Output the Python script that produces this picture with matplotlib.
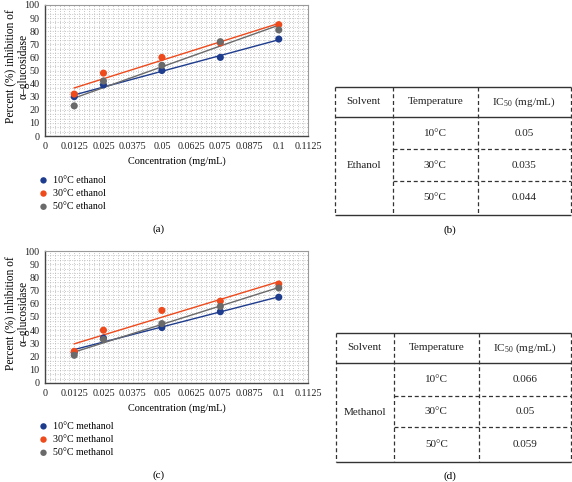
import numpy as np
import matplotlib
matplotlib.use("Agg")
import matplotlib.pyplot as plt
from matplotlib.ticker import MultipleLocator, FixedLocator

plt.rcParams['font.family'] = ['Liberation Serif', 'DejaVu Serif']
plt.rcParams['mathtext.fontset'] = 'custom'
plt.rcParams['mathtext.rm'] = 'Liberation Serif'

# ---------------- data ----------------
conc = [0.0125, 0.025, 0.05, 0.075, 0.1]
x_ticks = [0, 0.0125, 0.025, 0.0375, 0.05, 0.0625, 0.075, 0.0875, 0.1, 0.1125]
x_ticklabels = ["0", "0.0125", "0.025", "0.0375", "0.05", "0.0625", "0.075", "0.0875", "0.1", "0.1125"]
y_ticks = [0, 10, 20, 30, 40, 50, 60, 70, 80, 90, 100]

ethanol_10 = [30, 39, 50, 60, 74]
ethanol_30 = [32, 48, 60, 71, 85]
ethanol_50 = [23, 42, 54, 72, 81]

methanol_10 = [23, 34, 42, 54, 65]
methanol_30 = [24, 40, 55, 62, 75]
methanol_50 = [21, 33, 45, 58, 72]

eth_labels = ["10°C ethanol", "30°C ethanol", "50°C ethanol"]
meth_labels = ["10°C methanol", "30°C methanol", "50°C methanol"]

table_header = ["Solvent", "Temperature", "IC$_{\\mathregular{50}}$ (mg/mL)"]
temps = ["10°C", "30°C", "50°C"]
ic50_ethanol = ["0.05", "0.035", "0.044"]
ic50_methanol = ["0.066", "0.05", "0.059"]

colors = ["#1E3C8E", "#EE4A1C", "#6A6A6A"]

W, H = 572, 482
fig = plt.figure(figsize=(W / 100, H / 100), dpi=100)


def fx(px):
    return px / W


def fy(py):
    return 1 - py / H


def make_plot(top_px, bot_px, series, labels, leg_top_px, cap, cap_y):
    ax = fig.add_axes([fx(45), fy(bot_px), fx(308) - fx(45), fy(top_px) - fy(bot_px)])
    ax.set_xlim(0, 0.1125)
    ax.set_ylim(0, 100)
    ax.xaxis.set_major_locator(FixedLocator(x_ticks))
    ax.set_xticklabels(x_ticklabels)
    ax.yaxis.set_major_locator(FixedLocator(y_ticks))
    ax.xaxis.set_minor_locator(MultipleLocator(0.0125 / 6))
    ax.yaxis.set_minor_locator(MultipleLocator(10 / 3))
    ax.grid(which='both', color='#a6a6a6', linestyle=(0, (1, 2.2)), linewidth=0.55)
    ax.set_axisbelow(True)
    ax.tick_params(which='both', length=0, labelsize=7.3, pad=4, colors='#222222')
    for s in ['left', 'bottom']:
        ax.spines[s].set_color('#444444')
        ax.spines[s].set_linewidth(1.0)
    for s in ['top', 'right']:
        ax.spines[s].set_color('#9a9a9a')
        ax.spines[s].set_linewidth(0.8)
    handles = []
    xs = np.array(conc)
    for vals, c, lab in zip(series, colors, labels):
        vals = np.array(vals, dtype=float)
        k, b = np.polyfit(xs, vals, 1)
        ax.plot([xs[0], xs[-1]], [k * xs[0] + b, k * xs[-1] + b], color=c, lw=1.0, zorder=3)
        h = ax.scatter(xs, vals, s=26, color=c, zorder=4, label=lab, edgecolors='none')
        handles.append(h)
    ax.set_xlabel("Concentration (mg/mL)", fontsize=7.4, labelpad=4)
    mid = (top_px + bot_px) / 2 - 4
    fig.text(fx(17), fy(mid), "Percent (%) inhibition of\nα–glucosidase", fontsize=8.3,
             rotation=90, ha='center', va='center', linespacing=1.25, multialignment='center')
    ax.legend(handles=handles, loc='upper left', bbox_to_anchor=(fx(40), fy(leg_top_px)),
              bbox_transform=fig.transFigure, frameon=False, fontsize=7.2, handlelength=0.7,
              handletextpad=0.6, labelspacing=0.42, borderpad=0, borderaxespad=0,
              markerscale=0.9)
    fig.text(fx(159), fy(cap_y), cap, fontsize=8, ha='center', va='center')
    return ax


make_plot(5, 136, [ethanol_10, ethanol_30, ethanol_50], eth_labels, 176, "(a)", 229)
make_plot(251, 383, [methanol_10, methanol_30, methanol_50], meth_labels, 422, "(c)", 475)

# ---------------- tables ----------------
ov = fig.add_axes([0, 0, 1, 1])
ov.set_xlim(0, W)
ov.set_ylim(H, 0)
ov.axis('off')


def make_table(left, right, top, hdr, r1, r2, bot, c1, c2, solvent, ic50, cap, cap_y):
    lc = '#333333'
    dash = (0, (3.2, 2.2))
    for yy in [top, hdr, bot]:
        ov.plot([left, right], [yy, yy], color=lc, lw=1.0, solid_capstyle='butt')
    for yy in [r1, r2]:
        ov.plot([c1, right], [yy, yy], color=lc, lw=0.9, linestyle=dash)
    for xx in [left, c1, c2, right]:
        ov.plot([xx, xx], [top, bot], color=lc, lw=0.9, linestyle=dash)
    cx = [(left + c1) / 2, (c1 + c2) / 2, (c2 + right) / 2]
    hy = (top + hdr) / 2
    for x, t in zip(cx, table_header):
        ov.text(x, hy, t, fontsize=8, ha='center', va='center', color='#222222')
    rows_y = [(hdr + r1) / 2, (r1 + r2) / 2, (r2 + bot) / 2]
    ov.text(cx[0], (hdr + bot) / 2, solvent, fontsize=8, ha='center', va='center', color='#222222')
    for ry, t, v in zip(rows_y, temps, ic50):
        ov.text(cx[1], ry, t, fontsize=8, ha='center', va='center', color='#222222')
        ov.text(cx[2], ry, v, fontsize=8, ha='center', va='center', color='#222222')
    ov.text(450, cap_y, cap, fontsize=8, ha='center', va='center')


make_table(335, 570.5, 87, 117, 149, 181, 215, 392.5, 478, "Ethanol", ic50_ethanol, "(b)", 230)
make_table(336, 570.5, 333, 363, 396, 427, 462, 393.5, 479, "Methanol", ic50_methanol, "(d)", 476)

fig.savefig("out.png", dpi=100)
